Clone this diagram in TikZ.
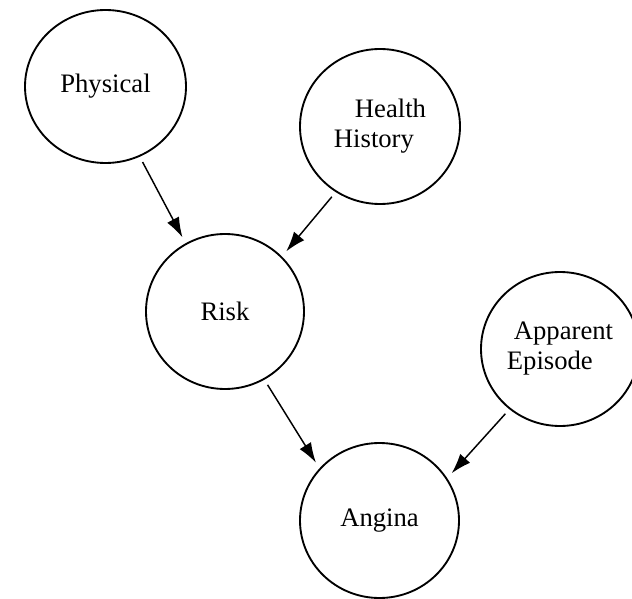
\documentclass[tikz,border=0pt]{standalone}
\usepackage{fontspec}
\setmainfont{Liberation Serif}
\usetikzlibrary{arrows.meta,shapes.geometric}
\tikzset{
  var/.style={draw=black, line width=1.4pt, ellipse, inner sep=0pt,
    font=\fontsize{20pt}{22.5pt}\selectfont, align=left},
  arr/.style={draw=black, line width=1.1pt, -{Latex[length=15pt,width=10pt]},
    shorten <=4.5pt, shorten >=5pt}
}
\begin{document}
\begin{tikzpicture}[x=0.75pt,y=-0.75pt]
\useasboundingbox (0,0) rectangle (632,599);
\node[var, minimum width=120.75pt, minimum height=114.75pt] (phys) at (105.5,86.5) {Physical};
\node[var, minimum width=120pt, minimum height=116.25pt] (hist) at (380,126.5) {\hspace*{15.75pt}Health\\History};
\node[var, minimum width=118.5pt, minimum height=116.25pt] (risk) at (225,311.5) {Risk};
\node[var, minimum width=118.5pt, minimum height=115.5pt] (appar) at (560,349) {\hspace*{5.25pt}Apparent\\Episode};
\node[var, minimum width=119.25pt, minimum height=116.25pt] (angina) at (379.5,520.5) {Angina};
\draw[arr] (phys.-64.8) -- (risk.120.3);
\draw[arr] (hist.-124.4) -- (risk.44.3);
\draw[arr] (risk.-60.7) -- (angina.139.6);
\draw[arr] (appar.-130) -- (angina.32.2);
\end{tikzpicture}
\end{document}
